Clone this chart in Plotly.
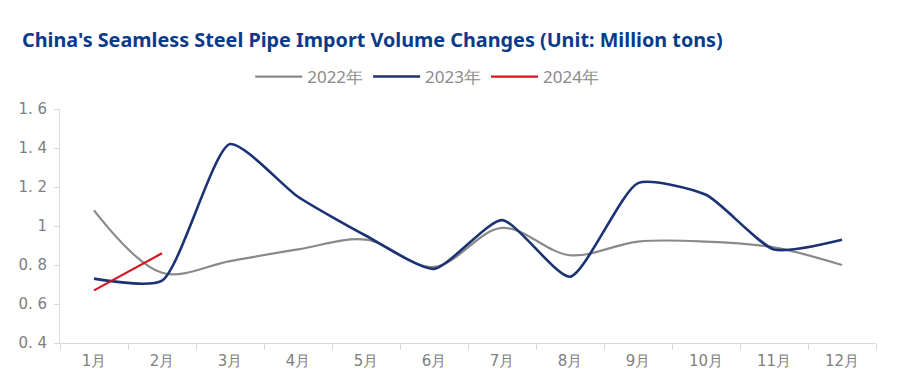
import plotly.graph_objects as go

months = ["1月", "2月", "3月", "4月", "5月", "6月", "7月", "8月", "9月", "10月", "11月", "12月"]
v2022 = [1.08, 0.76, 0.82, 0.88, 0.93, 0.79, 0.99, 0.85, 0.92, 0.92, 0.89, 0.80]
v2023 = [0.73, 0.72, 1.42, 1.15, 0.95, 0.78, 1.03, 0.74, 1.22, 1.16, 0.88, 0.93]
v2024 = [0.67, 0.86]
ytickvals = [0.4, 0.6, 0.8, 1.0, 1.2, 1.4, 1.6]
yticktext = ["0. 4", "0. 6", "0. 8", "1", "1. 2", "1. 4", "1. 6"]

fig = go.Figure()
fig.add_trace(go.Scatter(x=months, y=v2022, name="2022年", mode="lines",
                         line=dict(color="#8a8a8a", width=2.2, shape="spline", smoothing=1.0)))
fig.add_trace(go.Scatter(x=months, y=v2023, name="2023年", mode="lines",
                         line=dict(color="#1b3275", width=2.6, shape="spline", smoothing=0.6)))
fig.add_trace(go.Scatter(x=months[:2], y=v2024, name="2024年", mode="lines",
                         line=dict(color="#d4161f", width=2.2)))

# the page adds an 8px body margin; margins below compensate for it
fig.update_layout(
    width=900, height=383,
    paper_bgcolor="white", plot_bgcolor="white",
    margin=dict(l=52, r=32, t=101, b=48, autoexpand=False),
    title=dict(text="<b>China's Seamless Steel Pipe Import Volume Changes (Unit: Million tons)</b>",
               x=14/900, xanchor="left", xref="container", yref="container",
               y=1 - 32/383, yanchor="middle",
               font=dict(family="Noto Sans", size=19.8, color="#0b3a8a")),
    legend=dict(orientation="h", x=0.45, xanchor="center", y=1 + 32/234,
                yanchor="middle", font=dict(family="Noto Sans", size=17, color="#8a8a8a"),
                itemwidth=47, tracegroupgap=0),
    showlegend=True,
    xaxis=dict(type="category", range=[-0.5, 11.5], showline=True, linecolor="#d9d9d9", linewidth=1,
               ticks="outside", tickson="boundaries", ticklen=6, tickcolor="#d9d9d9",
               showgrid=False, zeroline=False, ticklabelstandoff=4,
               tickfont=dict(family="DejaVu Sans", size=15, color="#808080")),
    yaxis=dict(range=[0.4, 1.6], tickvals=ytickvals, ticktext=yticktext, showline=True,
               linecolor="#d9d9d9", linewidth=1, ticks="outside", ticklen=5, tickcolor="#d9d9d9",
               showgrid=False, zeroline=False, ticklabelstandoff=4,
               tickfont=dict(family="DejaVu Sans", size=15, color="#808080")),
)

fig.write_html("out.html")
